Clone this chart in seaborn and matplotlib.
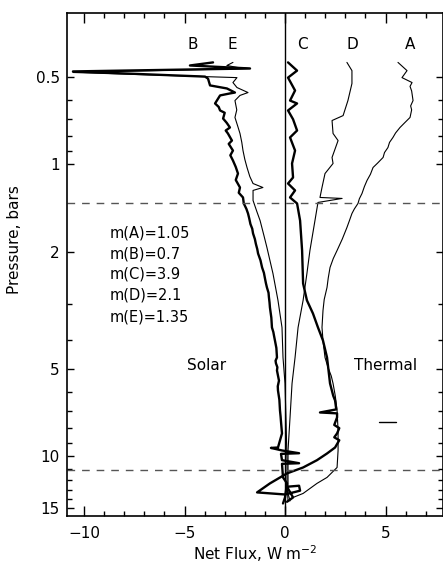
import numpy as np
import pandas as pd
import matplotlib
matplotlib.use("Agg")
import matplotlib.pyplot as plt
import seaborn as sns
from matplotlib.ticker import FixedLocator, FixedFormatter, NullFormatter

# ---------------- data ----------------
flux_A = [5.62, 6.07, 5.82, 6.32, 6.22, 6.30, 6.37, 6.25, 6.30, 6.22, 5.95, 5.72, 5.50, 5.37,
          5.20, 5.12, 4.95, 4.88, 4.60, 4.38, 4.25, 4.08, 3.95, 3.83, 3.70, 3.63, 3.45, 3.33,
          3.20, 3.08, 2.85, 2.59, 2.40, 2.24, 2.15, 2.09, 1.95, 1.89, 1.84, 1.89, 1.99, 2.14,
          2.30, 2.39, 2.50, 2.59, 2.64, 2.64, 2.59, 2.09, 1.59, 0.90, 0.40]
pres_A = [0.447, 0.477, 0.504, 0.524, 0.54, 0.56, 0.604, 0.63, 0.65, 0.690, 0.72, 0.747, 0.78,
          0.808, 0.84, 0.875, 0.91, 0.946, 0.99, 1.024, 1.08, 1.134, 1.19, 1.257, 1.31, 1.360,
          1.42, 1.472, 1.56, 1.644, 1.80, 1.970, 2.10, 2.253, 2.45, 2.637, 2.90, 3.162, 3.616,
          4.01, 4.581, 4.958, 5.30, 5.623, 6.20, 6.96, 8.15, 9.54, 10.91, 11.80, 12.37, 13.39,
          13.82]

flux_B = [-3.58, -4.73, -1.74, -10.55, -3.98, -3.83, -3.73, -2.89, -2.49, -2.74, -3.23, -3.48,
          -3.30, -3.23, -3.00, -3.08, -2.90, -2.74, -2.95, -2.84, -2.64, -2.80, -2.59, -2.72,
          -2.59, -2.45, -2.34, -2.45, -2.24, -2.30, -2.09, -2.05, -1.92, -1.84, -1.78, -1.72,
          -1.63, -1.59, -1.50, -1.45, -1.38, -1.34, -1.22, -1.14, -1.05, -1.00, -0.95, -0.90,
          -0.82, -0.80, -0.77, -0.75, -0.68, -0.65, -0.58, -0.55, -0.50, -0.43, -0.40, -0.47,
          -0.45, -0.38, -0.40, -0.30, -0.36, -0.35, -0.28, -0.25, -0.22, -0.20, -0.15, -0.35,
          -0.70, -0.15, 0.70, -0.20, -0.15, 0.70, -0.15, -0.10, 0.10, 0.00, -0.10]
pres_B = [0.447, 0.458, 0.469, 0.480, 0.500, 0.508, 0.536, 0.549, 0.567, 0.571, 0.580, 0.618,
          0.635, 0.653, 0.665, 0.696, 0.720, 0.747, 0.765, 0.783, 0.828, 0.850, 0.896, 0.930,
          0.969, 1.02, 1.074, 1.13, 1.199, 1.25, 1.297, 1.36, 1.42, 1.472, 1.53, 1.60,
          1.66, 1.723, 1.80, 1.87, 1.95, 2.018, 2.13, 2.253, 2.35, 2.45, 2.55, 2.637,
          2.75, 2.85, 2.97, 3.089, 3.35, 3.616, 3.75, 3.85, 4.01, 4.25, 4.581, 4.70,
          4.8, 4.95, 5.077, 5.5, 5.75, 5.943, 6.40, 6.96, 7.3, 7.6, 8.34, 9.32,
          9.35, 9.54, 9.75, 9.80, 10.3, 10.55, 10.6, 11.80, 12.37, 13.82, 14.49]

flux_C = [0.15, 0.60, 0.15, 0.50, 0.25, 0.60, 0.15, 0.40, 0.60, 0.25, 0.50, 0.35, 0.40, 0.15,
          0.50, 0.25, 0.60, 0.75, 0.85, 0.90, 1.09, 1.39, 1.64, 1.89, 2.09, 2.24, 2.40, 2.49,
          2.55, 1.74, 2.59, 2.59, 2.45, 2.70, 2.59, 2.45, 2.70, 2.49, 2.09, 1.59, 0.90, 0.10,
          -0.75, -1.39, 0.00, 0.75, 0.70, 0.10, 0.40, 0.10]
pres_C = [0.447, 0.477, 0.504, 0.558, 0.604, 0.618, 0.653, 0.700, 0.765, 0.808, 0.896, 0.992,
          1.108, 1.162, 1.227, 1.297, 1.360, 1.556, 1.970, 2.556, 2.92, 3.238, 3.616, 4.01,
          4.581, 5.623, 6.2, 6.43, 6.9, 7.07, 7.12, 7.35, 7.8, 8.0, 8.34, 8.6, 8.8, 9.32,
          9.77, 10.3, 10.91, 11.43, 12.37, 13.28, 13.5, 13.1, 12.6, 12.7, 13.82, 14.3]

flux_D = [3.08, 3.33, 3.33, 3.13, 2.89, 2.34, 2.39, 2.64, 2.34, 2.39, 1.99, 1.84, 1.74, 2.84,
          1.64, 1.49, 1.24, 1.09, 0.90, 0.65, 0.50, 0.35, 0.25, 0.15, 0.15, 0.25]
pres_D = [0.447, 0.477, 0.528, 0.604, 0.680, 0.707, 0.783, 0.828, 0.946, 0.992, 1.074, 1.199,
          1.297, 1.307, 1.349, 1.556, 1.970, 2.362, 2.92, 3.616, 4.581, 5.623, 7.35, 9.54,
          13.39, 14.2]

flux_E = [-2.59, -2.89, -2.39, -1.74, -10.55, -2.39, -2.59, -2.39, -1.84, -2.24, -2.49, -2.40,
          -2.49, -2.35, -2.24, -2.15, -2.09, -2.00, -1.89, -1.75, -1.59, -1.10, -1.59, -1.59,
          -1.40, -1.24, -1.05, -0.90, -0.60, -0.35, -0.15, -0.10, 0.00, 0.05, 0.10, 0.10, 0.15]
pres_E = [0.447, 0.458, 0.465, 0.469, 0.484, 0.504, 0.524, 0.545, 0.567, 0.580, 0.604, 0.650,
          0.690, 0.740, 0.783, 0.840, 0.896, 0.960, 1.024, 1.10, 1.162, 1.199, 1.227, 1.328,
          1.45, 1.556, 1.75, 1.924, 2.362, 2.92, 3.616, 4.581, 5.623, 7.53, 10.3, 12.37, 14.2]

dash_flux = [4.7, 5.5]
dash_pres = [7.65, 7.65]

ref_pressures = [1.36, 11.1]

curve_labels = ["B", "E", "C", "D", "A"]
curve_label_x = [-4.58, -2.64, 0.85, 3.33, 6.22]
curve_label_p = 0.388

m_lines = ["m(A)=1.05", "m(B)=0.7", "m(C)=3.9", "m(D)=2.1", "m(E)=1.35"]
m_pres = [1.723, 2.018, 2.381, 2.809, 3.342]

y_major = [0.5, 1, 2, 5, 10, 15]
y_major_labels = ["0.5", "1", "2", "5", "10", "15"]
y_minor = [0.6, 0.7, 0.8, 0.9, 3, 4, 6, 7, 8, 9, 11, 12, 13, 14]
x_major = [-10, -5, 0, 5]

# ---------------- figure ----------------
sns.set_style("ticks")
plt.rcParams["font.family"] = ["DejaVu Sans"]
plt.rcParams["text.color"] = "black"
plt.rcParams["axes.labelcolor"] = "black"
plt.rcParams["xtick.color"] = "black"
plt.rcParams["ytick.color"] = "black"

fig = plt.figure(figsize=(4.43, 5.67), dpi=100)
ax = fig.add_axes([0.1506, 0.0899, 0.8494, 0.887])

curves = {
    "A": (flux_A, pres_A, 0.8),
    "B": (flux_B, pres_B, 1.7),
    "C": (flux_C, pres_C, 1.7),
    "D": (flux_D, pres_D, 0.8),
    "E": (flux_E, pres_E, 0.8),
}
for name, (fx, pr, lw) in curves.items():
    df = pd.DataFrame({"flux": fx, "pressure": pr})
    sns.lineplot(data=df, x="flux", y="pressure", sort=False, estimator=None,
                 color="black", linewidth=lw, ax=ax)

sns.lineplot(x=dash_flux, y=dash_pres, sort=False, estimator=None,
             color="black", linewidth=1.0, ax=ax)

for p in ref_pressures:
    ax.axhline(p, color="#555555", linewidth=1.0, linestyle=(0, (5.5, 5)))
ax.axvline(0, color="black", linewidth=1.0)

ax.set_yscale("log")
ax.set_xlim(-10.86, 7.86)
ax.set_ylim(16.0, 0.303)

ax.yaxis.set_major_locator(FixedLocator(y_major))
ax.yaxis.set_major_formatter(FixedFormatter(y_major_labels))
ax.yaxis.set_minor_locator(FixedLocator(y_minor))
ax.yaxis.set_minor_formatter(NullFormatter())
ax.xaxis.set_major_locator(FixedLocator(x_major))
ax.xaxis.set_minor_locator(FixedLocator(list(range(-10, 8))))

ax.tick_params(axis="both", which="both", direction="in", top=True, right=True,
               colors="black", labelcolor="black", width=1.0)
ax.tick_params(axis="x", which="major", length=7, labelsize=11, pad=7)
ax.tick_params(axis="x", which="minor", length=3.5)
ax.tick_params(axis="y", which="major", length=5, labelsize=11, pad=5)
ax.tick_params(axis="y", which="minor", length=3.5)

for s in ax.spines.values():
    s.set_linewidth(1.2)
    s.set_color("black")

ax.set_xlabel("Net Flux, W m$^{-2}$", fontsize=11, labelpad=2, color="black")
ax.set_ylabel("Pressure, bars", fontsize=11, color="black")
ax.yaxis.set_label_coords(-0.12, 0.55)

for lab, xx in zip(curve_labels, curve_label_x):
    ax.text(xx, curve_label_p, lab, fontsize=11, ha="center", va="center", color="black")

for txt, pp in zip(m_lines, m_pres):
    ax.text(-8.71, pp, txt, fontsize=10.5, ha="left", va="center", color="black")

ax.text(-3.88, 4.9, "Solar", fontsize=11, ha="center", va="center", color="black")
ax.text(4.98, 4.9, "Thermal", fontsize=11, ha="center", va="center", color="black")

fig.savefig("out.png", dpi=100)
